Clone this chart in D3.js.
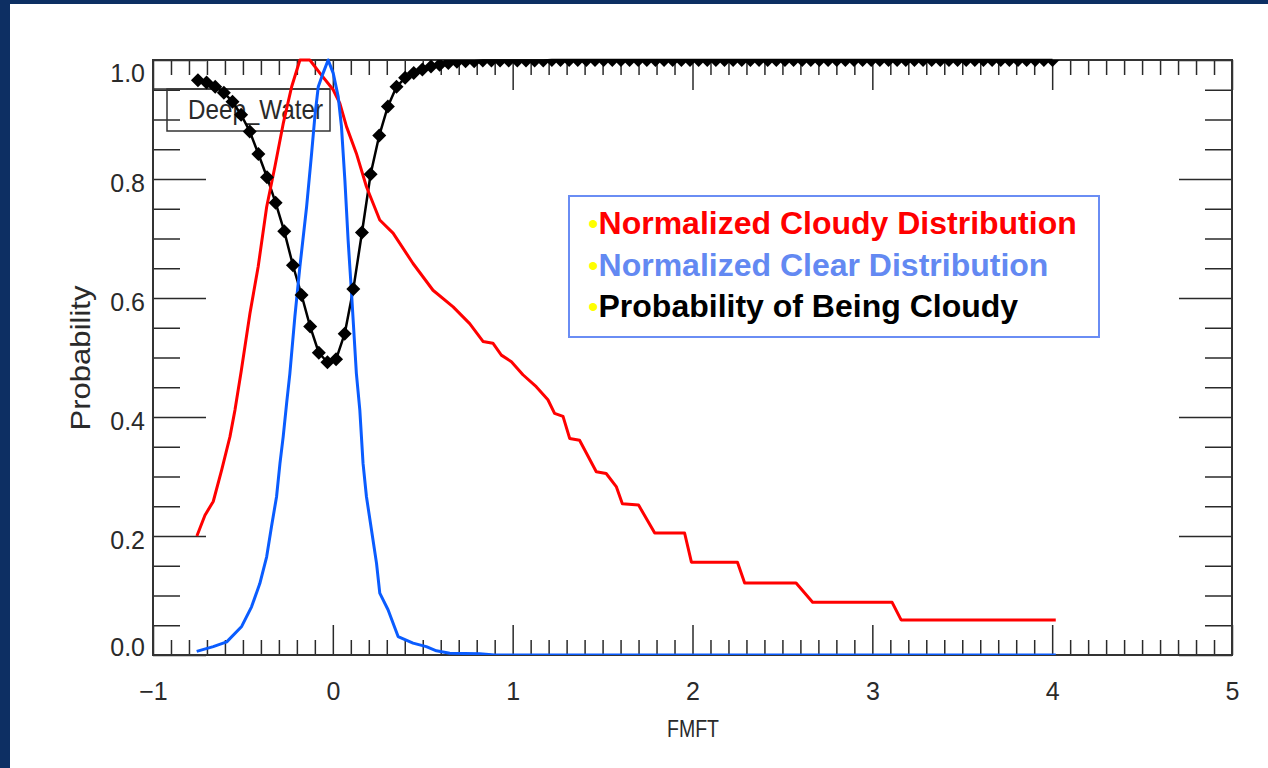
<!DOCTYPE html>
<html>
<head>
<meta charset="utf-8">
<script src="https://cdn.jsdelivr.net/npm/d3@7"></script>
<style>
  html, body { margin: 0; padding: 0; background: #0c2c5e; }
  svg { display: block; }
</style>
</head>
<body>
<svg id="chart" width="1268" height="768"></svg>
<script>
// probability of being cloudy, one value per FMFT bin
const binStart = -0.75
const binWidth = 0.048
const probCloudy = [
  0.966, 0.962, 0.955, 0.945, 0.930, 0.908, 0.880, 0.842, 0.803, 0.760,
  0.712, 0.655, 0.605, 0.552, 0.508, 0.492, 0.497, 0.540, 0.615, 0.710,
  0.808, 0.873, 0.922, 0.955, 0.970, 0.978, 0.984, 0.989, 0.992, 0.995,
  0.997, 0.998, 0.998, 0.999, 0.999, 0.999, 0.999, 0.999, 0.999, 0.999,
  0.999, 1, 1, 1, 1, 1, 1, 1, 1, 1,
  1, 1, 1, 1, 1, 1, 1, 1, 1, 1,
  1, 1, 1, 1, 1, 1, 1, 1, 1, 1,
  1, 1, 1, 1, 1, 1, 1, 1, 1, 1,
  1, 1, 1, 1, 1, 1, 1, 1, 1, 1,
  1, 1, 1, 1, 1, 1, 1, 1, 1, 1
]

// normalized cloudy distribution
const cloudyX = [
  -0.756, -0.711, -0.665, -0.618, -0.572, -0.544, -0.510, -0.461, -0.415, -0.368,
  -0.322, -0.276, -0.229, -0.183, -0.128, -0.072, 0.002, 0.039, 0.076, 0.131,
  0.187, 0.261, 0.335, 0.446, 0.557, 0.669, 0.761, 0.835, 0.890, 0.937,
  0.993, 1.057, 1.131, 1.196, 1.233, 1.280, 1.317, 1.372, 1.465, 1.520,
  1.576, 1.610, 1.700, 1.790, 1.956, 1.994, 2.250, 2.290, 2.576, 2.668,
  3.110, 3.160, 4.020
]
const cloudyY = [
  0.200, 0.235, 0.258, 0.311, 0.367, 0.412, 0.476, 0.574, 0.653, 0.753,
  0.821, 0.893, 0.955, 1.000, 1.000, 0.978, 0.950, 0.927, 0.888, 0.843,
  0.787, 0.731, 0.709, 0.658, 0.613, 0.585, 0.557, 0.527, 0.524, 0.504,
  0.493, 0.471, 0.451, 0.429, 0.406, 0.401, 0.364, 0.361, 0.308, 0.305,
  0.283, 0.254, 0.252, 0.205, 0.205, 0.156, 0.156, 0.121, 0.121, 0.0885,
  0.0885, 0.059, 0.059
]

// normalized clear distribution
const clearX = [
  -0.757, -0.665, -0.590, -0.507, -0.452, -0.406, -0.368, -0.341, -0.313, -0.294,
  -0.276, -0.257, -0.239, -0.211, -0.183, -0.146, -0.118, -0.100, -0.081, -0.054,
  -0.026, 0.002, 0.030, 0.048, 0.067, 0.085, 0.104, 0.131, 0.150, 0.168,
  0.187, 0.215, 0.243, 0.261, 0.307, 0.363, 0.446, 0.520, 0.576, 0.650,
  0.817, 0.900, 4.020
]
const clearY = [
  0.006, 0.014, 0.022, 0.048, 0.081, 0.120, 0.165, 0.216, 0.266, 0.322,
  0.367, 0.423, 0.473, 0.569, 0.653, 0.753, 0.843, 0.905, 0.955, 0.978,
  1.000, 0.978, 0.938, 0.888, 0.798, 0.697, 0.608, 0.473, 0.412, 0.322,
  0.266, 0.210, 0.154, 0.104, 0.076, 0.031, 0.020, 0.014, 0.007, 0.003,
  0.002, 0.000, 0.000
]

const xMajor = [-1, 0, 1, 2, 3, 4, 5]
const yMajor = [0, 0.2, 0.4, 0.6, 0.8, 1.0]

const legendItems = [
  { label: 'Normalized Cloudy Distribution', color: '#ff0000' },
  { label: 'Normalized Clear Distribution', color: '#6389f2' },
  { label: 'Probability of Being Cloudy', color: '#000000' }
]

const svg = d3.select('#chart')
const width = 1268
const height = 768
const plot = { left: 153, right: 1232, top: 60, bottom: 655 }

const x = d3.scaleLinear().domain([-1, 5]).range([plot.left, plot.right])
const y = d3.scaleLinear().domain([0, 1]).range([plot.bottom, plot.top])

const axisFont = "'Liberation Sans', Arial, sans-serif"
const inkColor = '#2a2a2a'

// slide background and white panel
svg.append('rect')
  .attr('width', width)
  .attr('height', height)
  .attr('fill', '#0d2f63')
svg.append('rect')
  .attr('x', 10)
  .attr('y', 4)
  .attr('width', width - 10)
  .attr('height', height - 4)
  .attr('fill', '#fff')

svg.append('clipPath')
  .attr('id', 'plot-clip')
  .append('rect')
  .attr('x', plot.left)
  .attr('y', plot.top)
  .attr('width', plot.right - plot.left)
  .attr('height', plot.bottom - plot.top)

svg.append('clipPath')
  .attr('id', 'line-clip')
  .append('rect')
  .attr('x', plot.left)
  .attr('y', plot.top - 3)
  .attr('width', plot.right - plot.left)
  .attr('height', plot.bottom - plot.top + 3)

// minor tick positions
const xMinor = d3.range(-10, 51).map(i => i / 10).filter(v => !xMajor.includes(v))
const yMinor = d3.range(0, 21).map(i => i / 20).filter(v => Math.round(v * 100) % 20 !== 0)

const axes = svg.append('g').attr('class', 'axes')

function styleAxis (g) {
  g.select('.domain').remove()
  g.selectAll('.tick line').attr('stroke', inkColor).attr('stroke-width', 1.5)
  g.selectAll('.tick text')
    .attr('fill', inkColor)
    .style('font-family', axisFont)
    .style('font-size', '25px')
}

axes.append('g')
  .attr('transform', `translate(0,${plot.bottom})`)
  .call(d3.axisBottom(x).tickValues(xMinor).tickSize(-15).tickSizeOuter(0).tickFormat(''))
  .call(styleAxis)

axes.append('g')
  .attr('transform', `translate(0,${plot.bottom})`)
  .call(d3.axisBottom(x).tickValues(xMajor).tickSize(-30).tickSizeOuter(0).tickPadding(27)
    .tickFormat(d => d < 0 ? '\u2212' + Math.abs(d) : String(d)))
  .call(styleAxis)

axes.append('g')
  .attr('transform', `translate(0,${plot.top})`)
  .call(d3.axisTop(x).tickValues(xMinor).tickSize(-15).tickSizeOuter(0).tickFormat(''))
  .call(styleAxis)

axes.append('g')
  .attr('transform', `translate(0,${plot.top})`)
  .call(d3.axisTop(x).tickValues(xMajor).tickSize(-30).tickSizeOuter(0).tickFormat(''))
  .call(styleAxis)

axes.append('g')
  .attr('transform', `translate(${plot.left},0)`)
  .call(d3.axisLeft(y).tickValues(yMinor).tickSize(-27).tickSizeOuter(0).tickFormat(''))
  .call(styleAxis)

axes.append('g')
  .attr('transform', `translate(${plot.left},0)`)
  .call(d3.axisLeft(y).tickValues(yMajor).tickSize(-53).tickSizeOuter(0).tickPadding(8)
    .tickFormat(d3.format('.1f')))
  .call(styleAxis)
  .call(g => g.selectAll('.tick text')
    .attr('dy', d => d === 1 ? '0.84em' : d === 0 ? '0em' : '0.48em'))

axes.append('g')
  .attr('transform', `translate(${plot.right},0)`)
  .call(d3.axisRight(y).tickValues(yMinor).tickSize(-27).tickSizeOuter(0).tickFormat(''))
  .call(styleAxis)

axes.append('g')
  .attr('transform', `translate(${plot.right},0)`)
  .call(d3.axisRight(y).tickValues(yMajor).tickSize(-53).tickSizeOuter(0).tickFormat(''))
  .call(styleAxis)

// frame
axes.append('rect')
  .attr('x', plot.left)
  .attr('y', plot.top)
  .attr('width', plot.right - plot.left)
  .attr('height', plot.bottom - plot.top)
  .attr('fill', 'none')
  .attr('stroke', '#333')
  .attr('stroke-width', 2)

// axis titles
svg.append('text')
  .attr('x', 693)
  .attr('y', 737)
  .attr('text-anchor', 'middle')
  .attr('fill', inkColor)
  .style('font-family', axisFont)
  .style('font-size', '24px')
  .attr('textLength', 52)
  .attr('lengthAdjust', 'spacingAndGlyphs')
  .text('FMFT')

svg.append('text')
  .attr('transform', 'translate(90,358) rotate(-90)')
  .attr('text-anchor', 'middle')
  .attr('fill', inkColor)
  .style('font-family', axisFont)
  .style('font-size', '28px')
  .attr('textLength', 145)
  .attr('lengthAdjust', 'spacingAndGlyphs')
  .text('Probability')

// Deep_Water label box
const dw = svg.append('g')
dw.append('line')
  .attr('x1', plot.left).attr('x2', 330)
  .attr('y1', 89).attr('y2', 89)
  .attr('stroke', '#333').attr('stroke-width', 1.5)
dw.append('rect')
  .attr('x', 167).attr('y', 89)
  .attr('width', 163).attr('height', 42)
  .attr('fill', 'none')
  .attr('stroke', '#333').attr('stroke-width', 1.5)
dw.append('text')
  .attr('x', 188)
  .attr('y', 119)
  .attr('fill', inkColor)
  .style('font-family', axisFont)
  .style('font-size', '28px')
  .attr('textLength', 135)
  .attr('lengthAdjust', 'spacingAndGlyphs')
  .text('Deep_Water')

// data
const probPoints = probCloudy.map((v, i) => ({ x: binStart + i * binWidth, y: v }))
const cloudyPoints = cloudyX.map((v, i) => ({ x: v, y: cloudyY[i] }))
const clearPoints = clearX.map((v, i) => ({ x: v, y: clearY[i] }))

const line = d3.line()
  .x(d => x(d.x))
  .y(d => y(d.y))

const marks = svg.append('g').attr('clip-path', 'url(#line-clip)')

marks.append('path')
  .datum(probPoints)
  .attr('d', line)
  .attr('fill', 'none')
  .attr('stroke', '#000')
  .attr('stroke-width', 2.5)
  .attr('stroke-linejoin', 'round')

svg.append('g')
  .attr('clip-path', 'url(#plot-clip)')
  .selectAll('path')
  .data(probPoints)
  .join('path')
  .attr('d', 'M0,-7L7,0L0,7L-7,0Z')
  .attr('transform', d => `translate(${x(d.x)},${y(d.y)})`)
  .attr('fill', '#000')

marks.append('path')
  .datum(cloudyPoints)
  .attr('d', line)
  .attr('fill', 'none')
  .attr('stroke', '#ff0000')
  .attr('stroke-width', 3)
  .attr('stroke-linejoin', 'round')

marks.append('path')
  .datum(clearPoints)
  .attr('d', line)
  .attr('fill', 'none')
  .attr('stroke', '#0a5cff')
  .attr('stroke-width', 3)
  .attr('stroke-linejoin', 'round')

// series legend
const legend = svg.append('g')
legend.append('rect')
  .attr('x', 569)
  .attr('y', 196)
  .attr('width', 530)
  .attr('height', 141)
  .attr('fill', '#fff')
  .attr('stroke', '#6a8df4')
  .attr('stroke-width', 2)

const legendText = legend.selectAll('text')
  .data(legendItems)
  .join('text')
  .attr('x', 588)
  .attr('y', (d, i) => 234 + i * 41.5)
  .style('font-family', "'Liberation Sans', Arial, sans-serif")
  .style('font-weight', 'bold')
  .style('font-size', '32px')

legendText.append('tspan')
  .attr('fill', '#ffff00')
  .style('font-weight', 'normal')
  .style('font-size', '30px')
  .text('\u2022')

legendText.append('tspan')
  .attr('fill', d => d.color)
  .text(d => d.label)
</script>
</body>
</html>
